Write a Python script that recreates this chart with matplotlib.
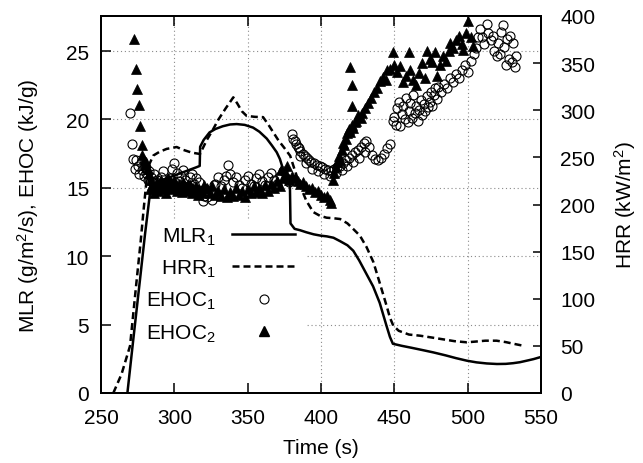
import matplotlib
matplotlib.use('Agg')
import matplotlib.pyplot as plt
from matplotlib.lines import Line2D
from matplotlib.patches import Rectangle

plt.rcParams['font.family'] = ['Liberation Sans', 'DejaVu Sans']
plt.rcParams['mathtext.fontset'] = 'custom'
plt.rcParams['mathtext.rm'] = 'Liberation Sans'
plt.rcParams['mathtext.it'] = 'Liberation Sans'
plt.rcParams['mathtext.default'] = 'rm'

# ---- data ----
mlr_t = [268, 272, 276.6, 280, 283.4, 286, 290, 295, 300, 305, 310, 315, 317.3, 317.6,
         320, 324, 328, 333, 338, 342.5, 348, 353.7, 358, 363, 366.5, 369.8, 372, 374,
         376, 377.6, 378.8, 379.2, 382, 385.7, 390, 395, 400, 404, 408.5, 413, 418, 422,
         426, 430, 435.5, 440, 444.7, 447, 449, 455, 462, 470, 476.5, 485, 492, 499.5,
         506, 513, 520, 526, 531, 535.6, 541, 545, 549.5]
mlr_v = [0, 3.9, 8.3, 11.6, 14.6, 15.3, 15.5, 15.7, 15.9, 16.1, 16.3, 16.5, 16.6, 18.0,
         18.5, 19.05, 19.3, 19.5, 19.63, 19.66, 19.6, 19.4, 19.1, 18.6, 18.1, 17.6, 17.1, 16.4,
         15.9, 15.4, 15.2, 12.4, 12.0, 11.9, 11.75, 11.6, 11.5, 11.45, 11.35, 11.1, 10.8, 10.4,
         9.7, 8.9, 7.8, 6.6, 4.9, 4.1, 3.6, 3.45, 3.3, 3.12, 2.97, 2.75, 2.55, 2.36,
         2.24, 2.16, 2.12, 2.13, 2.18, 2.25, 2.38, 2.48, 2.62]

hrr_t = [258.4, 264, 269.8, 274, 277, 278.9, 281, 283, 285.7, 290, 294.8, 301.6, 306, 312,
         317.5, 322, 326.5, 330, 335, 340.2, 343, 346, 349.3, 355, 360.5, 364, 367.4, 371,
         375, 379, 382, 385.7, 390, 394.7, 399.3, 403.8, 408, 413, 418, 422, 426.5, 431,
         435.7, 440, 444.7, 447, 449.3, 453, 460, 467.5, 475, 483, 491, 499.3, 505, 512,
         519.7, 526, 532, 537.7]
hrr_v = [0, 20, 50, 115, 160, 192, 225, 243, 252, 256, 259, 261, 258, 255,
         253.6, 268, 280, 290, 302, 313.7, 307, 299, 294, 293, 292.7, 285, 276.7, 268,
         260, 251.6, 237, 220, 204, 192, 188, 186, 185.5, 184.6, 180, 174, 167, 155,
         139, 117, 92.6, 80, 71.4, 66, 62, 60.8, 59, 57, 55, 53.8, 54.5, 55.5,
         55.5, 54, 52, 50.2]

ehoc1_t = [270, 271, 272, 273, 274, 275, 276, 277, 278, 279, 280, 281, 282, 283, 284, 285, 286, 287,
           288, 289.5, 291, 292.5, 294, 295.5, 297, 298.5, 300, 301.5, 303, 304.5, 306, 307.5, 309,
           310.5, 312, 313.5, 315, 316.5,
           319.5, 320.5, 321, 322, 323, 325.4, 326, 327, 328, 330, 332, 334, 335,
           336.6, 338,
           340, 342, 344, 346, 348, 350, 352, 354, 356, 358, 360, 362, 364, 366, 368, 370, 372,
           374, 376, 378,
           380, 381, 382, 383, 384, 385, 386, 387.5, 389, 390.5, 392, 393.5, 395, 397, 399,
           401, 403, 405, 407, 409, 411, 413, 415, 417, 419, 421, 423, 425, 427, 429, 431,
           433, 435, 437, 439, 441, 443, 445, 447,
           386, 390, 394, 398, 402, 406, 410, 414, 418, 422, 426, 430,
           449, 450, 451, 452, 453, 454, 455, 456, 457, 458, 459, 460, 461, 462, 463, 464, 465,
           466, 467, 468, 469, 470, 471, 472, 473, 474, 475, 476, 477, 478, 479, 480, 482, 484,
           486, 488, 490, 492, 494, 496, 498, 500, 502, 504, 506, 507, 508.5, 510, 511, 513,
           514, 516, 517, 518, 520, 521, 522, 523, 524, 525, 526, 527, 528, 529, 530, 531,
           532, 533]
ehoc1_v = [20.5, 18.2, 17.1, 16.4, 17.0, 16.6, 16.0, 16.8, 16.3, 15.9, 16.5, 16.1, 15.6, 16.2, 15.8, 15.4, 16.0, 15.5,
           15.6, 15.2, 15.8, 16.2, 15.4, 14.9, 15.7, 16.4, 16.8, 16.1, 15.5, 15.9, 16.3, 15.6, 15.1,
           15.8, 16.0, 15.3, 15.7, 15.4,
           14.0, 14.4, 14.9, 14.3, 14.8, 14.1, 14.6, 15.2, 15.3, 15.8, 15.1, 15.6, 15.9,
           16.7, 16.0,
           15.4, 15.8, 15.2, 15.0, 15.6, 15.9, 15.3, 15.1, 15.7, 16.0, 15.5, 15.2, 15.8, 16.1, 15.6, 15.3, 15.9,
           16.2, 15.7, 15.4,
           18.9, 18.6, 18.4, 18.2, 18.0, 17.9, 17.7, 17.5, 17.3, 17.2, 17.0, 16.9, 16.8, 16.7, 16.6,
           16.5, 16.4, 16.3, 16.2, 16.4, 16.5, 16.6, 16.8, 17.0, 17.2, 17.4, 17.6, 17.8, 18.0, 18.3, 18.4,
           18.0, 17.4, 17.1, 17.0, 17.2, 17.5, 17.9, 18.2,
           17.3, 16.8, 16.4, 16.2, 16.0, 15.9, 16.1, 16.3, 16.6, 16.9, 17.2, 17.6,
           19.9, 20.2, 19.6, 20.8, 21.3, 19.5, 20.4, 21.0, 20.0, 21.6, 19.8, 20.6, 21.2, 20.1, 21.8, 20.5, 21.0,
           19.9, 20.7, 21.4, 20.3, 21.1, 20.6, 21.7, 20.9, 21.3, 22.0, 21.0, 21.8, 22.3, 21.5, 22.4, 22.0, 22.6,
           22.3, 23.0, 22.7, 23.3, 23.0, 23.6, 24.0, 23.5, 24.3, 24.8, 25.2, 26.0, 26.6, 26.0, 25.5, 27.0,
           26.3, 25.8, 26.1, 25.0, 24.6, 25.6, 24.8, 26.4, 26.9, 25.3, 24.0, 25.9, 24.4, 26.1, 24.2, 25.6,
           23.8, 24.6]

ehoc2_t = [272.5, 273.9, 274.5, 275.9, 276.6, 277.7,
           278, 279, 280, 281, 282, 283, 284, 285, 283.4, 286, 287,
           288, 289, 290, 291, 292, 293, 294, 295, 296, 297, 298, 299, 300, 301, 302, 303, 304,
           305, 306, 307, 308, 309, 310, 311, 312, 313, 314, 315, 316, 317, 318, 319, 320,
           322, 324, 326, 328, 330, 332, 334, 336, 338, 340, 342, 344, 346, 348, 350, 352, 354,
           356, 358, 360, 362, 364, 366, 368, 370, 372, 373, 374, 376, 377, 378,
           380, 382, 384, 386, 388, 390, 392, 394, 396, 398, 400, 402, 404, 406, 407,
           408, 409, 410, 411, 412, 413, 414, 415, 416, 417, 418, 419, 420, 421, 422, 423, 424,
           425, 427, 428, 430, 432, 434, 436, 438, 440, 442, 444, 445, 447, 449, 450, 452, 454,
           456, 458, 460, 461, 463, 465, 467, 469, 471, 472, 474, 476, 477.7, 479, 481, 483, 485,
           487, 488, 490, 492, 494, 496, 497, 499, 500.4, 502, 503.6,
           419.8, 421, 421.2]
ehoc2_v = [25.9, 23.7, 22.2, 21.05, 19.5, 18.1,
           17.4, 17.0, 16.7, 16.9, 16.4, 16.0, 15.6, 15.2, 14.9, 14.6, 15.0,
           15.4, 14.8, 15.1, 15.6, 14.9, 15.3, 14.6, 15.2, 15.7, 14.9, 15.4, 15.0, 15.6, 15.2, 14.8, 15.3, 15.0,
           14.7, 15.4, 15.1, 14.8, 15.3, 14.9, 15.2, 14.6, 15.0, 14.7, 15.1, 14.5, 14.9, 14.6, 14.8, 15.2,
           15.0, 14.6, 15.1, 14.5, 14.8, 14.4, 14.9, 14.3, 14.7, 14.4, 15.0, 14.5, 14.8, 14.3, 14.9, 14.6, 15.1,
           14.7, 15.0, 14.6, 15.2, 14.8, 15.3, 15.0, 15.5, 15.1, 16.3, 15.7, 16.0, 16.6, 15.6,
           15.9, 15.7, 15.5, 15.3, 15.4, 15.1, 14.9, 15.0, 14.7, 14.8, 14.5, 14.3, 14.4, 14.1, 13.9,
           15.6, 16.1, 16.5, 16.9, 17.3, 17.0, 17.8, 18.3, 18.1, 18.6, 19.0, 19.3, 19.1, 19.6, 19.4, 19.8, 19.9,
           20.3, 20.1, 20.5, 20.8, 21.2, 21.6, 22.0, 22.3, 22.8, 23.1, 22.9, 23.6, 23.7, 24.9, 24.0, 23.5, 23.9,
           22.7, 23.2, 24.9, 23.6, 22.9, 22.5, 23.4, 24.1, 23.0, 25.0, 24.4, 24.2, 24.9, 23.2, 24.0, 24.6, 24.3,
           25.0, 25.6, 25.2, 25.8, 26.1, 25.5, 25.1, 26.3, 27.2, 26.0, 25.4,
           23.8, 22.5, 21.0]

x_ticks = [250, 300, 350, 400, 450, 500, 550]
left_ticks = [0, 5, 10, 15, 20, 25]
right_ticks = [0, 50, 100, 150, 200, 250, 300, 350, 400]

FS = 15
LW = 1.8
DASH = (0, (2.8, 1.6))

# ---- figure ----
fig = plt.figure(figsize=(6.43, 4.64), dpi=100)
ax = fig.add_axes([101/643, 70/464, 440/643, 377/464])
ax2 = ax.twinx()

ax.set_xlim(250, 550)
ax.set_ylim(0, 27.56)
ax2.set_ylim(0, 400)

# dotted grid (drawn manually so that the key box can hide part of it)
for xv in x_ticks[1:-1]:
    ax.axvline(xv, color='#8a8a8a', lw=0.8, linestyle=(0, (1, 2.5)), zorder=0.6)
for yv in left_ticks[1:]:
    ax.axhline(yv, color='#8a8a8a', lw=0.8, linestyle=(0, (1, 2.5)), zorder=0.6)

# white key area
ax.add_patch(Rectangle((0, 0), (307 - 101) / 440, (394 - 220) / 377, transform=ax.transAxes,
                       facecolor='white', edgecolor='none', zorder=1))

ax.plot(ehoc1_t, ehoc1_v, linestyle='none', marker='o', ms=6.5, mfc='none',
        mec='black', mew=0.8, zorder=3)
ax.plot(ehoc2_t, ehoc2_v, linestyle='none', marker='^', ms=6.5, mfc='black',
        mec='black', mew=0.5, zorder=3)
ax.plot(mlr_t, mlr_v, color='black', lw=LW, zorder=2)
ax2.plot(hrr_t, hrr_v, color='black', lw=LW, linestyle=DASH)

ax.set_xticks(x_ticks)
ax.set_yticks(left_ticks)
ax2.set_yticks(right_ticks)

for a in (ax, ax2):
    for s in a.spines.values():
        s.set_linewidth(1.4)
ax.tick_params(axis='x', direction='in', length=7, width=1.1, top=True, labelsize=FS, pad=10.5)
ax.tick_params(axis='y', direction='in', length=7, width=1.1, right=False, labelsize=FS, pad=8.5)
ax2.tick_params(axis='y', direction='in', length=6, width=1.1, labelsize=FS, pad=14)

ax.set_xlabel('Time (s)', fontsize=FS)
ax.xaxis.set_label_coords(0.5, (394 - 439) / 377)
ax.set_ylabel('MLR (g/m$^2$/s), EHOC (kJ/g)', fontsize=FS)
ax.yaxis.set_label_coords((41 - 101) / 440, 0.5)
ax2.set_ylabel('HRR (kW/m$^2$)', fontsize=FS)
ax2.yaxis.set_label_coords((612 - 101) / 440, 0.5)

handles = [Line2D([], [], color='black', lw=LW),
           Line2D([], [], color='black', lw=LW, linestyle=DASH),
           Line2D([], [], linestyle='none', marker='o', ms=6.5, mfc='none', mec='black', mew=0.8),
           Line2D([], [], linestyle='none', marker='^', ms=6.5, mfc='black', mec='black')]
labels = ['MLR$_1$', 'HRR$_1$', 'EHOC$_1$', 'EHOC$_2$']
leg = ax.legend(handles, labels, loc='upper right',
                bbox_to_anchor=(301/643, 1 - 220/464), bbox_transform=fig.transFigure,
                markerfirst=False, frameon=False, fontsize=FS, handlelength=3.0,
                handletextpad=0.8, labelspacing=0.53, borderpad=0.3, borderaxespad=0,
                numpoints=1)
leg.set_zorder(1.5)

fig.savefig('out.png', dpi=100)
